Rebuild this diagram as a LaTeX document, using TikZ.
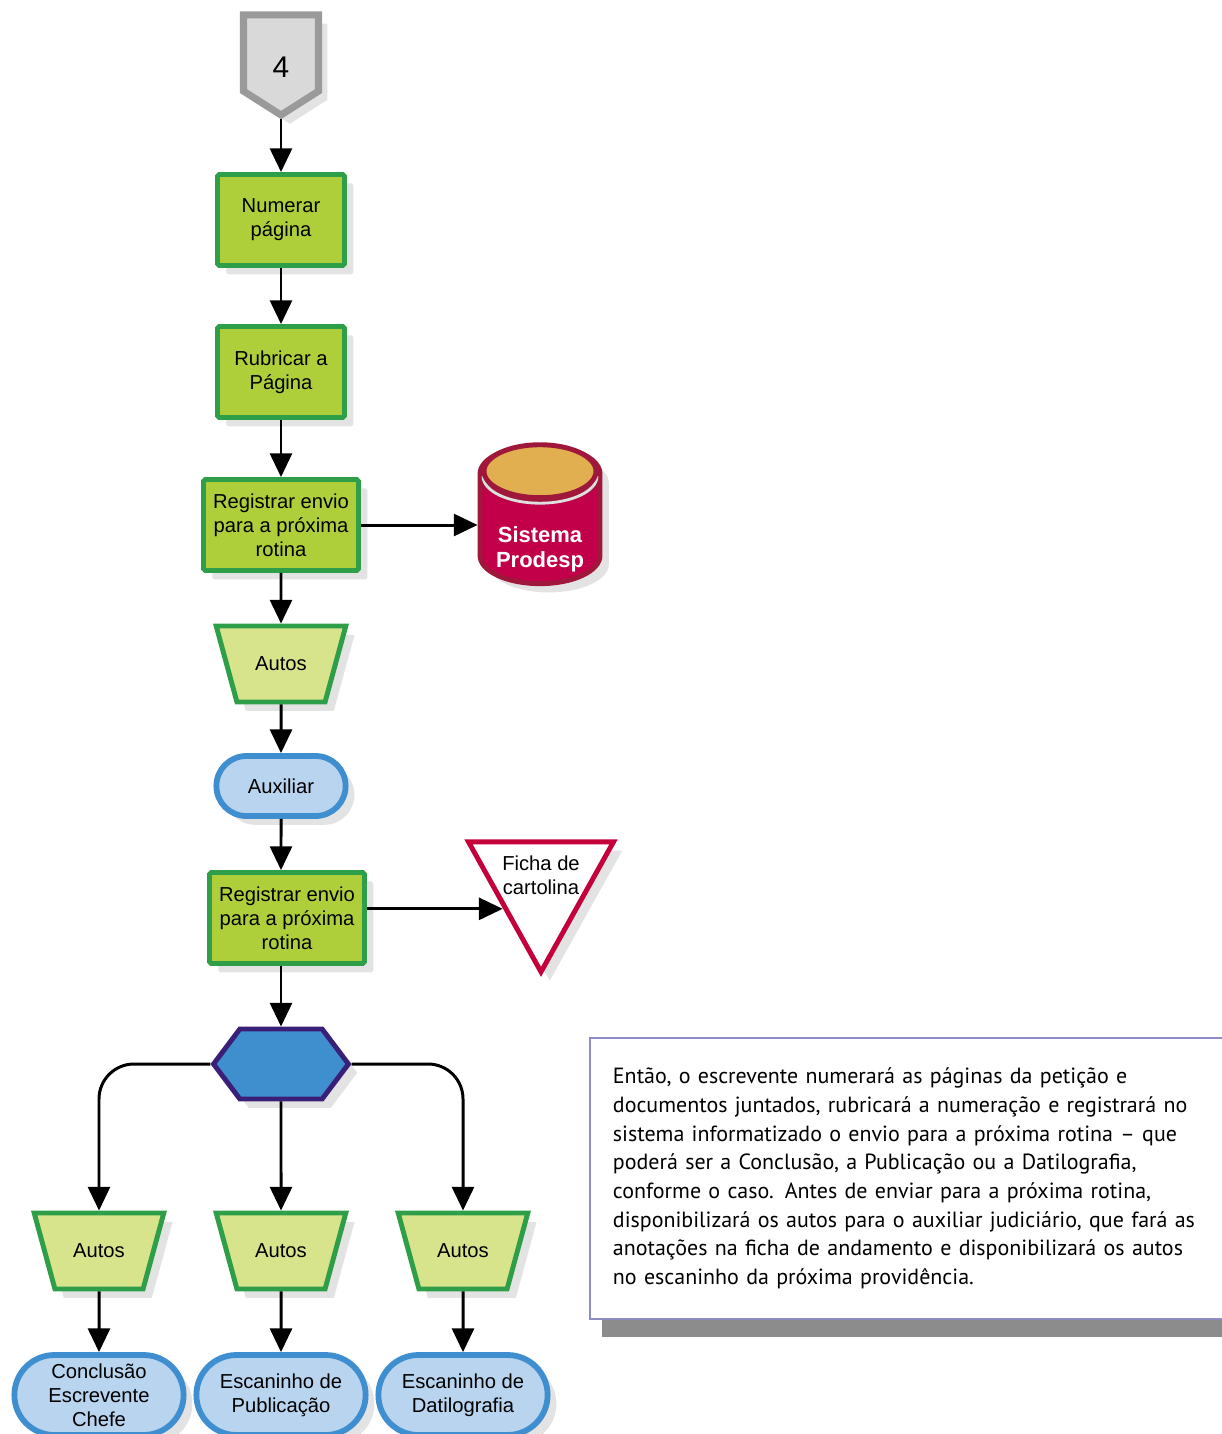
\documentclass[tikz,border=0pt]{standalone}
\usepackage{fontspec}
\setmainfont{Liberation Sans}
\newfontfamily\notefont{PT Sans}
\usetikzlibrary{shapes.geometric, shapes.misc, shapes.symbols, arrows.meta, shadows}

\definecolor{boxgreen}{HTML}{AFCF3A}
\definecolor{edgegreen}{HTML}{2E9E48}
\definecolor{docgreen}{HTML}{D7E48C}
\definecolor{capblue}{HTML}{B8D4EE}
\definecolor{capedge}{HTML}{3F8ED0}
\definecolor{hexblue}{HTML}{3F8FCF}
\definecolor{hexedge}{HTML}{3A1F78}
\definecolor{dbred}{HTML}{C20049}
\definecolor{dbedge}{HTML}{A0173C}
\definecolor{dbtop}{HTML}{E1AE50}
\definecolor{ficred}{HTML}{C4003A}
\definecolor{offgray}{HTML}{D9D9D9}
\definecolor{offedge}{HTML}{9A9A9A}
\definecolor{noteedge}{HTML}{8C8CC6}

\tikzset{
  softshadow/.style={drop shadow={shadow xshift=5pt, shadow yshift=-5pt, opacity=.22}},
  flow/.style={-{Triangle[length=13.5pt, width=12.5pt]}, line width=1.7pt},
  taskbox/.style={rectangle, draw=edgegreen, fill=boxgreen, line width=2.8pt,
    rounded corners=1pt, minimum width=2.54cm, minimum height=1.82cm,
    align=center, softshadow},
  widebox/.style={taskbox, minimum width=3.1cm},
  docshape/.style={trapezium, shape border rotate=180, trapezium stretches=true,
    draw=edgegreen, fill=docgreen, line width=2.8pt, minimum width=2.6cm,
    minimum height=1.52cm, softshadow},
  endcap/.style={rounded rectangle, draw=capedge, fill=capblue, line width=3.3pt,
    minimum width=2.82cm, minimum height=1.2cm, align=center, softshadow},
  wideend/.style={endcap, minimum width=3.62cm, minimum height=1.6cm},
  offpage/.style={signal, signal to=south, signal pointer angle=115,
    draw=offedge, fill=offgray, line width=4pt, minimum width=1.5cm,
    minimum height=1.6cm, softshadow},
  dbshape/.style={cylinder, shape border rotate=90, aspect=4.8, draw=dbedge,
    line width=2.8pt, fill=dbred, minimum width=2.4cm, minimum height=2.76cm,
    softshadow},
  dblid/.style={draw=dbedge, fill=dbtop, line width=2.8pt},
  tribox/.style={isosceles triangle, shape border rotate=-90,
    isosceles triangle stretches, draw=ficred, fill=white, line width=2.8pt,
    minimum width=2.9cm, minimum height=2.6cm, softshadow},
  hexshape/.style={signal, signal to=east and west, signal pointer angle=106,
    draw=hexedge, fill=hexblue, line width=2.8pt, minimum width=2.7cm,
    minimum height=1.4cm, softshadow},
  notebox/.style={rectangle, draw=noteedge, fill=white, line width=1.1pt,
    minimum width=14cm, minimum height=5.62cm, inner xsep=0.46cm,
    text width=13.08cm, align=left,
    font=\notefont\fontsize{12.5}{16.3}\selectfont,
    drop shadow={shadow xshift=0.24cm, shadow yshift=-0.36cm, fill=black!60, opacity=.75}}
}

\begin{document}
\begin{tikzpicture}[x=0.02cm, y=-0.02cm,
    every node/.append style={font=\fontsize{11.5}{13.6}\selectfont}]
  \useasboundingbox (0,0) rectangle (1221,1434);

  % main column
  \node[offpage, label={[font=\fontsize{17}{20}\selectfont, yshift=-0.28cm]center:4}] (off) at (281,53) {};
  \node[taskbox] (n1) at (281,220) {Numerar\\página};
  \node[taskbox] (n2) at (281,372) {Rubricar a\\Página};
  \node[widebox] (n3) at (281,525) {Registrar envio\\para a próxima\\rotina};
  \node[dbshape, label={[text=white, font=\bfseries\fontsize{12.5}{14.4}\selectfont, align=center, yshift=-0.26cm]center:Sistema\\Prodesp}] (db) at (540,536) {};
  \draw[white!75!gray, line width=1.6pt] ([yshift=-0.56cm]db.top) ++(-57,5) arc[start angle=180, end angle=360, x radius=57, y radius=-27];
  \draw[dblid] ([yshift=-0.56cm]db.top) ellipse [x radius=1.12cm, y radius=0.53cm];
  \node[docshape] (aut) at (281,664) {Autos};
  \node[endcap] (aux) at (281,786) {Auxiliar};
  \node[widebox] (n4) at (287,918) {Registrar envio\\para a próxima\\rotina};
  \node[tribox, label={[align=center, yshift=0.16cm]center:Ficha de\\cartolina}] (fic) at (541,883) {};
  \node[hexshape] (hex) at (281,1064) {};

  % three branches
  \node[docshape] (autL) at (99,1251) {Autos};
  \node[docshape] (autM) at (281,1251) {Autos};
  \node[docshape] (autR) at (463,1251) {Autos};
  \node[wideend] (endL) at (99,1395) {Conclusão\\Escrevente\\Chefe};
  \node[wideend] (endM) at (281,1395) {Escaninho de\\Publicação};
  \node[wideend] (endR) at (463,1395) {Escaninho de\\Datilografia};

  % note
  \node[notebox, anchor=north west] (note) at (589,1037) {Então, o escrevente numerará as páginas da petição e\\
documentos juntados, rubricará a numeração e registrará no\\
sistema informatizado o envio para a próxima rotina – que\\
poderá ser a Conclusão, a Publicação ou a Datilografia,\\
conforme o caso. Antes de enviar para a próxima rotina,\\
disponibilizará os autos para o auxiliar judiciário, que fará as\\
anotações na ficha de andamento e disponibilizará os autos\\
no escaninho da próxima providência.};

  % connectors
  \draw[flow] (off) -- (n1);
  \draw[flow] (n1) -- (n2);
  \draw[flow] (n2) -- (n3);
  \draw[flow] (n3.east) -- (n3.east -| db.west);
  \draw[flow] (n3) -- (aut);
  \draw[flow] (aut) -- (aux);
  \draw[flow] (aux) -- (aux |- n4.north);
  \draw[flow] (n4.east |- fic.right side) -- (fic.right side);
  \draw[flow] (hex.north |- n4.south) -- (hex.north);
  \draw[flow, rounded corners=0.7cm] (hex.west) -| (autL.north);
  \draw[flow] (hex) -- (autM);
  \draw[flow, rounded corners=0.7cm] (hex.east) -| (autR.north);
  \draw[flow] (autL) -- (endL);
  \draw[flow] (autM) -- (endM);
  \draw[flow] (autR) -- (endR);
\end{tikzpicture}
\end{document}
